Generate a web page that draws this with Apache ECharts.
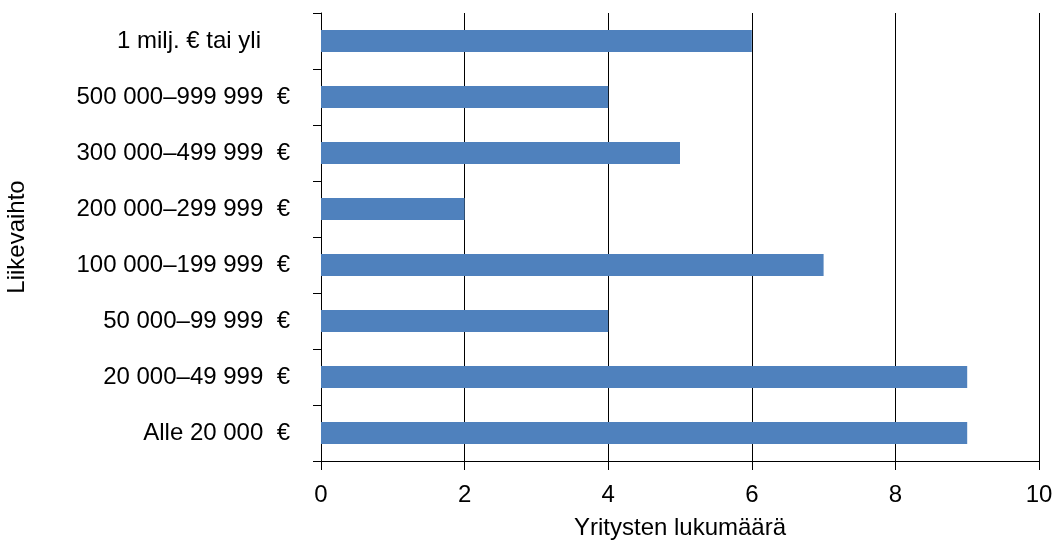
<!DOCTYPE html>
<html><head><meta charset="utf-8">
<script src="https://cdn.jsdelivr.net/npm/echarts@6/dist/echarts.min.js"></script>
<style>html,body{margin:0;padding:0;background:#fff}#c{width:1053px;height:540px}</style>
</head><body><div id="c"></div>
<script>
const categories = ["Alle 20 000  €", "20 000–49 999  €", "50 000–99 999  €", "100 000–199 999  €", "200 000–299 999  €", "300 000–499 999  €", "500 000–999 999  €", "1 milj. € tai yli"];
const values = [9, 9, 4, 7, 2, 5, 4, 6];
const xTicks = [0, 2, 4, 6, 8, 10];
const xName = "Yritysten lukumäärä";
const yName = "Liikevaihto";

const font = "'Liberation Sans', Arial, Helvetica, sans-serif";
const chart = echarts.init(document.getElementById('c'), null, {renderer: 'canvas'});
chart.setOption({
  animation: false,
  grid: {left: 321, right: 14, top: 13, bottom: 79, containLabel: false, outerBoundsMode: 'none'},
  xAxis: {
    type: 'value', min: xTicks[0], max: xTicks[xTicks.length - 1], interval: 2,
    name: xName, nameLocation: 'middle', nameGap: 55,
    nameTextStyle: {fontFamily: font, fontSize: 24, color: '#000'},
    axisLine: {show: true, lineStyle: {color: '#000', width: 1}},
    axisTick: {show: true, length: 9, lineStyle: {color: '#000'}},
    axisLabel: {fontFamily: font, fontSize: 24, color: '#000', margin: 22},
    splitLine: {show: true, lineStyle: {color: '#000', width: 1}}
  },
  yAxis: {
    type: 'category',
    data: categories.map((c, i) => i === categories.length - 1 ? {value: c, textStyle: {padding: [0, 29, 0, 0]}} : c),
    name: yName, nameLocation: 'middle', nameGap: 292, nameRotate: 90,
    nameTextStyle: {fontFamily: font, fontSize: 24, color: '#000'},
    axisLine: {show: true, lineStyle: {color: '#000', width: 1}},
    axisTick: {show: true, length: 8, lineStyle: {color: '#000'}},
    axisLabel: {fontFamily: font, fontSize: 24, color: '#000', margin: 31},
    splitLine: {show: false}
  },
  series: [{
    type: 'bar', data: values, barWidth: 22,
    itemStyle: {color: '#4F81BD'}
  }]
});
</script></body></html>
